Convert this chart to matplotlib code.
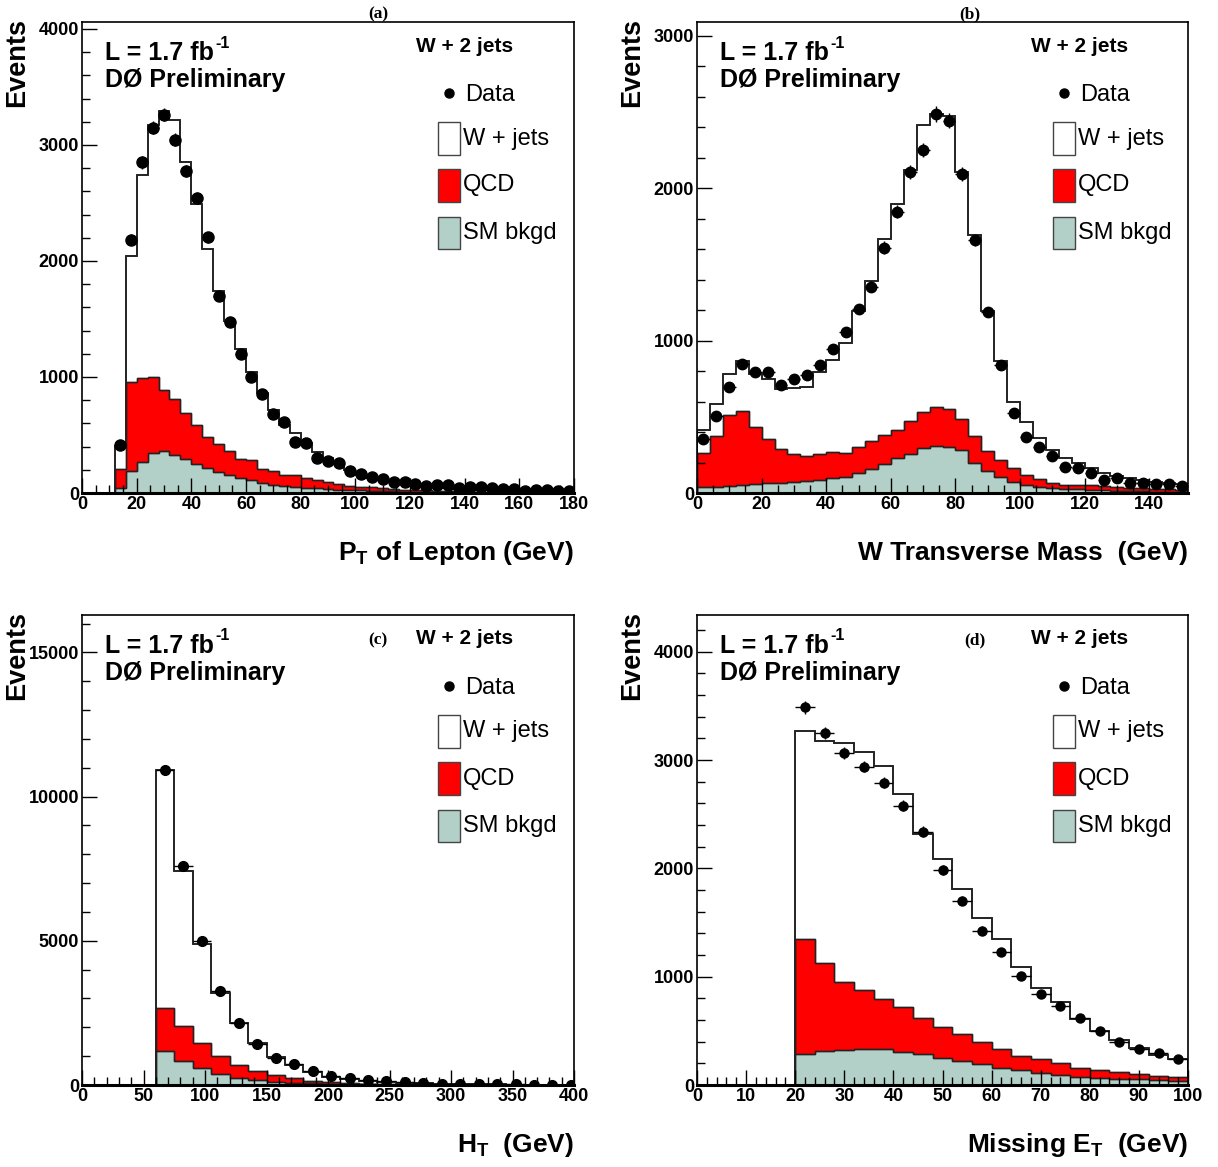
import numpy as np
import matplotlib
matplotlib.use("Agg")
import matplotlib.pyplot as plt
from matplotlib.patches import Rectangle
from matplotlib.ticker import MultipleLocator

plt.rcParams["font.family"] = ["Liberation Sans", "DejaVu Sans"]
plt.rcParams["font.weight"] = "bold"
plt.rcParams["mathtext.fontset"] = "custom"
plt.rcParams["mathtext.rm"] = "Liberation Sans:bold"
plt.rcParams["mathtext.bf"] = "Liberation Sans:bold"

# ---- (a) lepton pT, 4 GeV bins from 12 to 180 ----
edges_a = np.arange(12, 181, 4)
data_a = [414, 2183, 2850, 3147, 3261, 3046, 2773, 2543, 2206, 1694,
          1473, 1199, 998, 854, 679, 610, 437, 429, 302, 273,
          260, 191, 167, 138, 121, 98, 92, 75, 60, 69,
          69, 46, 49, 49, 40, 35, 35, 20, 26, 26,
          20, 20]
# stacked tops: total (W+jets on top), QCD on top of SM, SM bkgd
tot_a = [408, 2045, 2741, 3175, 3290, 3213, 2850, 2491, 2105, 1743,
         1484, 1240, 1047, 860, 716, 587, 515, 429, 351, 299,
         250, 198, 155, 130, 110, 95, 80, 68, 58, 50,
         43, 37, 32, 28, 24, 21, 18, 16, 14, 12,
         10, 9]
qcd_a = [204, 955, 989, 998, 889, 808, 688, 587, 486, 420,
         362, 293, 285, 207, 192, 158, 158, 132, 112, 98,
         78, 63, 55, 48, 42, 36, 30, 26, 22, 18,
         15, 13, 11, 9, 8, 7, 6, 5, 4, 4,
         3, 3]
sm_a = [40, 192, 270, 348, 365, 325, 293, 250, 213, 184,
        155, 127, 112, 89, 69, 60, 55, 46, 40, 35,
        30, 26, 22, 19, 16, 14, 12, 10, 9, 8,
        7, 6, 5, 4, 4, 3, 3, 2, 2, 2,
        2, 1]

# ---- (b) W transverse mass, 4 GeV bins from 0 to 152 ----
edges_b = np.arange(0, 153, 4)
data_b = [355, 502, 693, 847, 792, 792, 711, 748, 772, 838,
          947, 1057, 1208, 1353, 1610, 1846, 2103, 2250, 2487, 2443,
          2092, 1658, 1189, 842, 528, 366, 305, 243, 173, 166,
          129, 86, 101, 68, 66, 59, 57, 48]
tot_b = [414, 583, 781, 868, 783, 748, 682, 686, 695, 792,
         875, 985, 1197, 1390, 1664, 1899, 2120, 2414, 2487, 2476,
         2107, 1691, 1197, 864, 594, 469, 360, 283, 232, 195,
         162, 134, 112, 97, 86, 74, 64, 57]
qcd_b = [265, 371, 509, 535, 432, 355, 289, 254, 243, 254,
         268, 265, 300, 338, 382, 414, 474, 531, 564, 550,
         486, 375, 274, 215, 162, 118, 90, 64, 53, 55,
         53, 45, 40, 35, 32, 28, 25, 22]
sm_b = [37, 42, 46, 53, 59, 64, 68, 72, 77, 86,
        97, 107, 129, 158, 189, 228, 254, 294, 311, 305,
        283, 200, 147, 107, 74, 53, 42, 35, 29, 25,
        22, 18, 15, 13, 11, 9, 8, 7]

# ---- (c) HT, 15 GeV bins from 60 ----
edges_c = np.arange(60, 406, 15)
data_c = [10913, 7604, 5000, 3264, 2164, 1424, 926, 718, 486, 312,
          231, 174, 125, 95, 70, 52, 40, 30, 24, 18, 14, 11, 9]
tot_c = [10937, 7430, 4885, 3184, 2164, 1447, 984, 694, 463, 289,
         208, 150, 110, 82, 62, 46, 35, 27, 21, 16, 12, 9, 7]
qcd_c = [2662, 2049, 1447, 1007, 694, 498, 347, 231, 139, 93,
         60, 40, 28, 20, 14, 10, 7, 5, 4, 3, 2, 2, 1]
sm_c = [1192, 845, 579, 382, 255, 174, 116, 81, 55, 40,
        28, 20, 14, 10, 7, 5, 4, 3, 2, 2, 1, 1, 1]

# ---- (d) missing ET, 4 GeV bins from 20 to 100 ----
edges_d = np.arange(20, 101, 4)
data_d = [3486, 3248, 3070, 2941, 2793, 2580, 2340, 1986, 1700, 1426,
          1232, 1007, 838, 730, 616, 499, 400, 330, 293, 240]
tot_d = [3270, 3181, 3156, 3079, 2947, 2685, 2316, 2085, 1811, 1546,
         1349, 1087, 899, 764, 610, 499, 416, 339, 277, 237]
qcd_d = [1346, 1124, 949, 878, 792, 723, 616, 533, 471, 400,
         330, 271, 237, 200, 160, 139, 117, 102, 83, 71]
sm_d = [286, 314, 323, 330, 330, 308, 286, 246, 222, 191,
        160, 139, 108, 92, 77, 62, 56, 53, 46, 40]

W, H = 1218, 1167
RED = "#ff0000"
TEAL = "#b2d0c8"
EDGE = "#222222"

fig = plt.figure(figsize=(W / 100, H / 100), dpi=100)


def fx(x):
    return x / W


def fy(y):
    return 1 - y / H


panels = [
    # frame px (left, top, right, bottom), limits, tick steps, x title, tag position, marker size
    dict(box=(82, 22, 574, 493), edges=edges_a, data=data_a, tot=tot_a, qcd=qcd_a, sm=sm_a,
         xlim=(0, 180), ylim=(0, 4060), xmaj=20, xmin=5, ymaj=1000, ymin=200,
         xlabel=r"P$_\mathrm{T}$ of Lepton (GeV)", tag="(a)", tagxy=(378, 14), ms=8),
    dict(box=(697, 22, 1188, 493), edges=edges_b, data=data_b, tot=tot_b, qcd=qcd_b, sm=sm_b,
         xlim=(0, 152), ylim=(0, 3090), xmaj=20, xmin=5, ymaj=1000, ymin=200,
         xlabel="W Transverse Mass  (GeV)", tag="(b)", tagxy=(970, 14), ms=7.5),
    dict(box=(82, 615, 574, 1085), edges=edges_c, data=data_c, tot=tot_c, qcd=qcd_c, sm=sm_c,
         xlim=(0, 400), ylim=(0, 16300), xmaj=50, xmin=10, ymaj=5000, ymin=1000,
         xlabel=r"H$_\mathrm{T}$  (GeV)", tag="(c)", tagxy=(378, 640), ms=7),
    dict(box=(697, 615, 1188, 1085), edges=edges_d, data=data_d, tot=tot_d, qcd=qcd_d, sm=sm_d,
         xlim=(0, 100), ylim=(0, 4340), xmaj=10, xmin=2, ymaj=1000, ymin=200,
         xlabel=r"Missing E$_\mathrm{T}$  (GeV)", tag="(d)", tagxy=(975, 640), ms=6.5),
]

for p in panels:
    l, t, r, b = p["box"]
    ax = fig.add_axes([fx(l), fy(b), (r - l) / W, (b - t) / H])
    edges = p["edges"]
    centers = 0.5 * (edges[:-1] + edges[1:])
    half = 0.5 * np.diff(edges)

    # stacked histograms: W+jets (white) on top of QCD on top of SM
    ax.stairs(p["tot"], edges, fill=True, facecolor="white", edgecolor=EDGE, lw=1.2)
    ax.stairs(p["tot"], edges, fill=False, color=EDGE, lw=1.2)
    ax.stairs(p["qcd"], edges, fill=True, facecolor=RED, edgecolor=EDGE, lw=1.0)
    ax.stairs(p["qcd"], edges, fill=False, color=EDGE, lw=1.0)
    ax.stairs(p["sm"], edges, fill=True, facecolor=TEAL, edgecolor=EDGE, lw=1.0)
    ax.stairs(p["sm"], edges, fill=False, color=EDGE, lw=1.0)

    data = np.array(p["data"], dtype=float)
    ax.errorbar(centers, data, xerr=half, yerr=np.sqrt(data), fmt="o", color="black",
                ms=p["ms"], elinewidth=1.0, capsize=0, zorder=5)

    ax.set_xlim(*p["xlim"])
    ax.set_ylim(*p["ylim"])
    ax.xaxis.set_major_locator(MultipleLocator(p["xmaj"]))
    ax.xaxis.set_minor_locator(MultipleLocator(p["xmin"]))
    ax.yaxis.set_major_locator(MultipleLocator(p["ymaj"]))
    ax.yaxis.set_minor_locator(MultipleLocator(p["ymin"]))
    ax.tick_params(which="both", direction="in", top=False, right=False,
                   labelsize=13, pad=2)
    ax.tick_params(which="major", length=10.5, width=1.0)
    ax.tick_params(which="minor", length=5.5, width=1.0)
    for lab in ax.get_xticklabels() + ax.get_yticklabels():
        lab.set_fontweight("bold")
    for s in ["top", "right", "left"]:
        ax.spines[s].set_linewidth(1.2)
    ax.spines["bottom"].set_linewidth(2.2)

    # axis titles
    fig.text(fx(r), fy(b + 60), p["xlabel"], ha="right", va="center",
             fontsize=19, fontweight="bold")
    fig.text(fx(l - 65), fy(t - 4), "Events", rotation=90, ha="center", va="top",
             fontsize=19.5, fontweight="bold")
    fig.text(fx(p["tagxy"][0]), fy(p["tagxy"][1]), p["tag"], ha="center", va="center",
             fontsize=12.5, fontweight="bold", family="Liberation Serif")

    # annotations
    fig.text(fx(l + 23), fy(t + 31), "L = 1.7 fb", ha="left", va="center",
             fontsize=18, fontweight="bold")
    fig.text(fx(l + 133), fy(t + 21), "-1", ha="left", va="center",
             fontsize=11.5, fontweight="bold")
    fig.text(fx(l + 23), fy(t + 58), "DØ Preliminary", ha="left", va="center",
             fontsize=18, fontweight="bold")
    fig.text(fx(l + 334), fy(t + 24), "W + 2 jets", ha="left", va="center",
             fontsize=15, fontweight="bold")

    # legend
    fig.add_artist(plt.Line2D([fx(l + 367)], [fy(t + 71)], marker="o", color="black",
                              ms=6.5, transform=fig.transFigure, ls="none"))
    fig.text(fx(l + 383), fy(t + 73), "Data", ha="left", va="center",
             fontsize=17, fontweight="normal")
    for (y0, y1, fc, name) in [(100, 133, "white", "W + jets"),
                               (147, 180, RED, "QCD"),
                               (195, 227, TEAL, "SM bkgd")]:
        fig.add_artist(Rectangle((fx(l + 356), fy(t + y1)), 22 / W, (y1 - y0) / H,
                                 facecolor=fc, edgecolor="#444444", lw=1.0,
                                 transform=fig.transFigure))
        fig.text(fx(l + 381), fy(t + (y0 + y1) / 2), name, ha="left", va="center",
                 fontsize=17, fontweight="normal")

fig.savefig("out.png", dpi=100)
